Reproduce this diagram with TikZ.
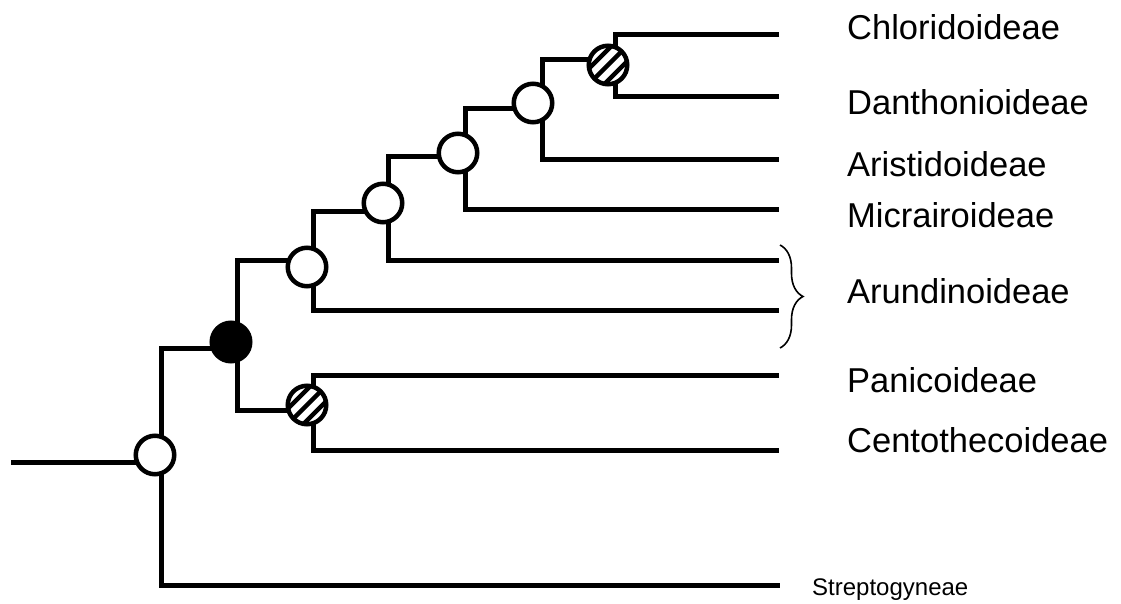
\documentclass[tikz,border=0pt]{standalone}
\usepackage{fontspec}
\setmainfont{Liberation Sans}
\usetikzlibrary{decorations.pathreplacing,calc}
\begin{document}
\begin{tikzpicture}[x=1pt,y=-1pt,
  branch/.style={line width=5pt,line join=miter},
  knot/.style={circle,draw,line width=4.5pt,fill=white,minimum size=38.5pt,inner sep=0pt},
  solidknot/.style={knot,fill=black},
  stripeknot/.style={knot,path picture={
      \foreach \o in {-11,0,11}{
        \draw[line width=4.5pt]
          ([shift={(\o*0.707-30,\o*0.707+30)}]path picture bounding box.center) --
          ([shift={(\o*0.707+30,\o*0.707-30)}]path picture bounding box.center);}}},
  taxon/.style={anchor=base west,inner sep=0pt,font=\fontsize{34.5}{40}\selectfont},
  smalltaxon/.style={anchor=base west,inner sep=0pt,font=\fontsize{24}{29}\selectfont}]
\useasboundingbox (0,0) rectangle (1121,604);

% junctions of the tree
\coordinate (base) at (11,462);
\coordinate (r) at (161,462);
\coordinate (rtop) at (161,348);
\coordinate (rbot) at (161,585);
\coordinate (k1) at (237,348);
\coordinate (k1t) at (237,260);
\coordinate (k1b) at (237,410);
\coordinate (pa) at (313,410);
\coordinate (pat) at (313,375);
\coordinate (pab) at (313,450);
\coordinate (a) at (313,260);
\coordinate (at) at (313,211);
\coordinate (ab) at (313,310);
\coordinate (b) at (388,211);
\coordinate (bt) at (388,157);
\coordinate (bb) at (388,260);
\coordinate (c) at (465,157);
\coordinate (ct) at (465,109);
\coordinate (cb) at (465,209);
\coordinate (d) at (542,109);
\coordinate (dt) at (542,60);
\coordinate (db) at (542,160);
\coordinate (e) at (615,60);
\coordinate (et) at (615,35);
\coordinate (eb) at (615,97);

% tips
\coordinate (tChl) at (779,35);
\coordinate (tDan) at (779,97);
\coordinate (tAri) at (779,160);
\coordinate (tMic) at (779,209);
\coordinate (tAr1) at (779,260);
\coordinate (tAr2) at (779,310);
\coordinate (tPan) at (779,375);
\coordinate (tCen) at (779,450);
\coordinate (tStr) at (780,585);

% branches
\draw[branch] (base) -- (r);
\draw[branch] (k1) -- (rtop) -- (rbot) -- (tStr);
\draw[branch] (pa) -- (k1b) -- (k1t) -- (a);
\draw[branch] (tPan) -- (pat) -- (pab) -- (tCen);
\draw[branch] (b) -- (at) -- (ab) -- (tAr2);
\draw[branch] (c) -- (bt) -- (bb) -- (tAr1);
\draw[branch] (d) -- (ct) -- (cb) -- (tMic);
\draw[branch] (e) -- (dt) -- (db) -- (tAri);
\draw[branch] (tChl) -- (et) -- (eb) -- (tDan);

% node markers
\node[knot] (nr) at (155,455) {};
\node[solidknot] (n1) at (231,342) {};
\node[stripeknot] (npa) at (307,405) {};
\node[knot] (na) at (307,267) {};
\node[knot] (nb) at (383,203) {};
\node[knot] (nc) at (458,153) {};
\node[knot] (nd) at (533,103) {};
\node[stripeknot] (ne) at (608,65) {};

% brace around the two Arundinoideae lineages
\coordinate (brtop) at (780,245);
\coordinate (brbot) at (780,348);
\draw[line width=1.6pt,decorate,decoration={brace,amplitude=23pt}] (brtop) -- (brbot);

% taxon names
\node[taxon] (lChl) at (847,40) {Chloridoideae};
\node[taxon] (lDan) at (847,115) {Danthonioideae};
\node[taxon] (lAri) at (847,177) {Aristidoideae};
\node[taxon] (lMic) at (847,227) {Micrairoideae};
\node[taxon] (lAru) at (847,303) {Arundinoideae};
\node[taxon] (lPan) at (847,392) {Panicoideae};
\node[taxon] (lCen) at (847,452) {Centothecoideae};
\node[smalltaxon] (lStr) at (812,595) {Streptogyneae};
\end{tikzpicture}
\end{document}
